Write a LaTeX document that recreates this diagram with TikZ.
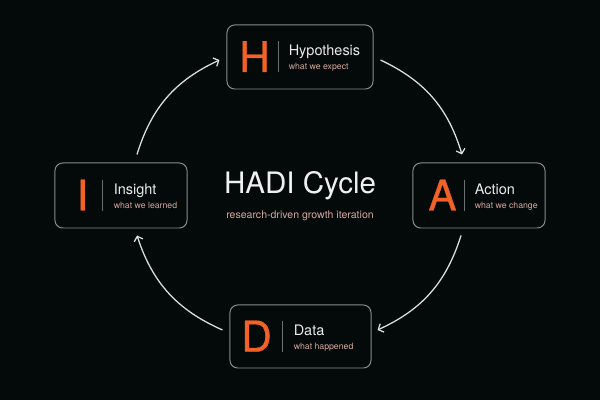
\documentclass[tikz,border=0pt]{standalone}
\usepackage{fontspec}
\setmainfont{TeX Gyre Heros}
\newfontfamily\stagefont[FakeBold=0.9]{TeX Gyre Heros}
\usetikzlibrary{arrows.meta,calc}
\definecolor{bgdark}{RGB}{4,9,9}
\definecolor{hadiorange}{RGB}{242,98,38}
\definecolor{subpink}{RGB}{214,168,158}
\definecolor{rimgray}{RGB}{135,140,140}
\definecolor{arrowgray}{RGB}{222,224,224}
\tikzset{
  stage/.style={draw=rimgray, line width=0.7pt, rounded corners=5.5pt, fill=bgdark, inner sep=0pt},
  letter/.style={text=hadiorange, font=\stagefont\fontsize{30}{30}\selectfont, anchor=base, inner sep=0pt},
  headline/.style={text=white!92!black, font=\fontsize{10.3}{11}\selectfont, anchor=base west, inner sep=0pt},
  subline/.style={text=subpink, font=\fontsize{6.2}{7}\selectfont, anchor=base west, inner sep=0pt},
  divider/.style={draw=rimgray!80!black, line width=0.6pt},
  loopflow/.style={draw=arrowgray, line width=0.9pt, -{Straight Barb[length=3pt,width=6.5pt]}, bend left=24},
}
\begin{document}
\begin{tikzpicture}[x=0.025cm, y=0.025cm]
  \fill[bgdark] (0,0) rectangle (600,-400);

  % the four stages
  \node[stage, minimum width=3.65cm, minimum height=1.6cm] (hyp) at (300,-57) {};
  \node[letter] (hypL) at ($(hyp.west)+(28,-15)$) {H};
  \draw[divider] ($(hyp.west)+(52,15.5)$) -- ($(hyp.west)+(52,-15.5)$);
  \node[headline] (hypT) at ($(hyp.west)+(62,1)$) {Hypothesis};
  \node[subline] (hypS) at ($(hyp.west)+(62,-13)$) {what we expect};

  \node[stage, minimum width=3.3cm, minimum height=1.625cm] (act) at (479,-195.5) {};
  \node[letter] (actL) at ($(act.west)+(30,-15)$) {A};
  \draw[divider] ($(act.west)+(52,15.5)$) -- ($(act.west)+(52,-15.5)$);
  \node[headline] (actT) at ($(act.west)+(62,1)$) {Action};
  \node[subline] (actS) at ($(act.west)+(62,-13)$) {what we change};

  \node[stage, minimum width=3.525cm, minimum height=1.575cm] (dat) at (300.5,-336.5) {};
  \node[letter] (datL) at ($(dat.west)+(27,-15)$) {D};
  \draw[divider] ($(dat.west)+(53,15.5)$) -- ($(dat.west)+(53,-15.5)$);
  \node[headline] (datT) at ($(dat.west)+(64,1)$) {Data};
  \node[subline] (datS) at ($(dat.west)+(64,-13)$) {what happened};

  \node[stage, minimum width=3.3cm, minimum height=1.625cm] (ins) at (121,-195.5) {};
  \node[letter] (insL) at ($(ins.west)+(28,-15)$) {I};
  \draw[divider] ($(ins.west)+(48,15.5)$) -- ($(ins.west)+(48,-15.5)$);
  \node[headline] (insT) at ($(ins.west)+(59,1)$) {Insight};
  \node[subline] (insS) at ($(ins.west)+(59,-13)$) {what we learned};

  % centre
  \node[text=white!94!black, font=\fontsize{21}{21}\selectfont, anchor=base, inner sep=0pt] (hadi) at (300,-194) {HADI Cycle};
  \node[subline, font=\fontsize{7.5}{8}\selectfont, anchor=base] (hadiS) at (300,-219) {research-driven growth iteration};

  % clockwise arrows
  \draw[loopflow] ($(ins.north)+(16,8)$) to ($(hyp.west)+(-7,-3)$);
  \draw[loopflow] ($(hyp.east)+(7,-3)$) to ($(act.north)+(-17,8)$);
  \draw[loopflow] ($(act.south)+(-18,-7)$) to ($(dat.east)+(6,6.5)$);
  \draw[loopflow] ($(dat.west)+(-7,6.5)$) to ($(ins.south)+(16,-7)$);
\end{tikzpicture}
\end{document}
